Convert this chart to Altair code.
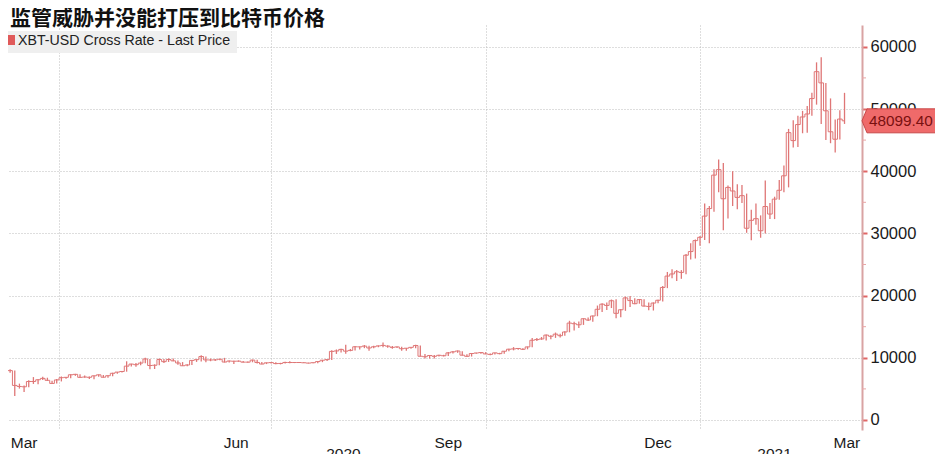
import altair as alt
import pandas as pd

# ---------------- data ----------------
title_text = "监管威胁并没能打压到比特币价格"
legend_text = "XBT-USD Cross Rate - Last Price"

first_bar = "2020-03-07"   # each bar covers two trading days
bar_step = "2D"

lows = [
    8850, 7700, 7600, 3850, 5050, 4500, 5250, 5800, 5750, 6450, 6300, 5860, 5870,
    6200, 6620, 6700, 7100, 6780, 6800, 6600, 6550, 6960, 6820, 6810, 7050, 7450, 7650, 7770,
    8620, 8550, 8800, 9120, 8150, 8200, 8800, 9150, 9330, 9440, 8900, 8700, 8640, 8830, 9340, 9420,
    9300, 9450, 9480, 9600, 9250, 9250, 8990, 9370, 9230, 9200, 9280, 9100, 8950, 8990, 9090,
    8950, 8940, 9070, 9140, 9150, 9200, 9150, 9090, 9130, 9130, 9300, 9480, 9650, 10620, 10860,
    10650, 11050, 11170, 11350, 11550, 11150, 11540, 11700, 11680, 11600, 11450, 11570, 11120, 11150, 11440, 11550,
    10200, 9900, 9880, 9900, 10200, 10220, 10300, 10690, 10800, 10350, 10180, 10200, 10640, 10650, 10600,
    10410, 10520, 10560, 10650, 11060, 11200, 11280, 11250, 11360, 11690, 12720, 12890, 12800, 12980, 13200,
    13250, 13530, 14100, 14400, 14800, 15290, 15900, 15800, 16680, 17350, 17700, 18000, 16350, 16520, 17550,
    18150, 18600, 18700, 18240, 17650, 17600, 18760, 19050, 21200, 22800, 22350, 22700, 23450, 25800, 25950, 28000,
    28950, 28400, 33500, 36600, 30500, 32400, 34400, 33900, 34900, 30100, 28900, 31400, 29300, 30000, 32300,
    32300, 35400, 36600, 37400, 43800, 43900, 46100, 46200, 48900, 50700, 47600, 45000, 44500, 43000,
    45100, 47600,
]
highs = [
    9200, 8900, 8150, 7970, 5850, 5550, 6400, 6900, 6550, 6950, 6800, 6300, 6600,
    7000, 6930, 7350, 7420, 7360, 7170, 6990, 7170, 7300, 7250, 7150, 7600, 7710, 7830, 9440,
    9040, 9180, 9390, 10000, 9800, 8950, 9900, 9800, 9900, 9900, 9560, 9310, 8980, 9600, 9720, 10400,
    10200, 9880, 9800, 9850, 9990, 9550, 9530, 9580, 9480, 9400, 9700, 9680, 9320, 9240, 9300,
    9270, 9190, 9360, 9450, 9310, 9340, 9280, 9210, 9240, 9420, 9660, 9730, 11200, 11340, 11450,
    12100, 11420, 11900, 11810, 12050, 11950, 11950, 11980, 12460, 12000, 11880, 11820, 11760, 11590, 11700, 12080,
    11980, 10600, 10400, 10440, 10480, 10480, 10930, 11100, 11180, 11050, 10570, 10760, 10810, 10950, 10910,
    10680, 10800, 10800, 11100, 11440, 11720, 11550, 11540, 11800, 13200, 13170, 13340, 13760, 13630, 14060,
    13850, 14250, 15950, 15780, 15830, 16340, 16480, 16800, 18400, 18750, 18900, 19370, 19400, 17850, 19850,
    19920, 19580, 19420, 19400, 18900, 18900, 19350, 21550, 23800, 24250, 24100, 24100, 26700, 28400, 29000, 29600,
    34800, 34400, 40300, 41900, 41300, 37700, 40000, 37900, 37800, 36400, 33800, 34800, 32900, 38500, 34900,
    35900, 38600, 40900, 46800, 48200, 48900, 49700, 50500, 52600, 57500, 58300, 54200, 51700, 48300,
    49800, 52600,
]
closes = [
    8900, 7930, 7940, 5560, 5390, 5340, 6190, 6190, 6470, 6690, 6380, 5880, 6440,
    6800, 6860, 7270, 7340, 6860, 6910, 6870, 7100, 7260, 6880, 7120, 7510, 7700, 7800, 8660,
    8990, 8890, 9150, 9810, 8760, 8800, 9730, 9380, 9730, 9510, 9170, 8720, 8840, 9580, 9700, 10200,
    9660, 9650, 9670, 9770, 9320, 9480, 9450, 9460, 9300, 9300, 9630, 9250, 9000, 9190, 9230,
    9070, 9090, 9250, 9240, 9240, 9240, 9200, 9150, 9210, 9390, 9610, 9710, 11030, 11100, 11350,
    11070, 11190, 11770, 11760, 11880, 11580, 11770, 11910, 11990, 11870, 11680, 11750, 11460, 11540, 11680, 11970,
    10250, 10170, 10370, 10240, 10400, 10330, 10790, 10950, 11090, 10420, 10240, 10690, 10770, 10840, 10620,
    10550, 10790, 10670, 11060, 11380, 11430, 11500, 11370, 11750, 12820, 12930, 13030, 13650, 13460, 13800,
    13550, 14150, 15580, 15480, 15310, 16280, 16070, 16720, 17800, 18620, 18420, 19170, 17150, 17720, 19630,
    19200, 18700, 19360, 18320, 18260, 18800, 19250, 21310, 23140, 23480, 23830, 23730, 26490, 27080, 28840, 29370,
    32780, 33990, 39370, 40250, 35570, 37390, 36820, 35790, 36070, 30830, 32100, 32370, 30430, 34320, 33110,
    35510, 36930, 39260, 46200, 44920, 47500, 48720, 49200, 51680, 56000, 54200, 49710, 46340, 45140,
    48380, 48099,
]
last_price = 48099.40

y_ticks = [0, 10000, 20000, 30000, 40000, 50000, 60000]
y_minor = [5000, 15000, 25000, 35000, 45000, 55000]

month_dates = ["2020-03-17", "2020-06-16", "2020-09-15", "2020-12-14", "2021-03-05"]
month_labels = ["Mar", "Jun", "Sep", "Dec", "Mar"]
year_dates = ["2020-08-01", "2021-02-02"]
year_labels = ["2020", "2021"]
grid_dates = [(2020, 4, 1), (2020, 7, 1), (2020, 10, 1), (2021, 1, 1)]

# ---------------- tables ----------------
bar_dates = pd.date_range(first_bar, periods=len(lows), freq=bar_step).strftime("%Y-%m-%d")
bars_df = pd.DataFrame({"date": list(bar_dates), "v": lows, "high": highs, "c": closes})
minor_df = pd.DataFrame({"v": y_minor})
last_df = pd.DataFrame({"v": [last_price]})
month_df = pd.DataFrame({"date": month_dates, "label": month_labels})
year_df = pd.DataFrame({"date": year_dates, "label": year_labels})
one = pd.DataFrame({"t": [title_text], "l": [legend_text]})

# ---------------- scales / axes ----------------
xscale = alt.Scale(
    type="utc",
    domain=[alt.DateTime(year=2020, month=3, date=6, hours=16, utc=True),
            alt.DateTime(year=2021, month=3, date=11, hours=12, utc=True)],
)
xaxis = alt.Axis(
    values=[alt.DateTime(year=y, month=m, date=d, utc=True) for (y, m, d) in grid_dates],
    labels=False, ticks=False, domain=False, title=None,
    grid=True, gridDash=[1, 2], gridColor="#bdbdbd", gridWidth=1,
)
yscale = alt.Scale(domain=[-1608, 63505], nice=False, zero=False)
yaxis = alt.Axis(
    orient="right", values=y_ticks, format="d", title=None,
    grid=True, gridDash=[1, 2], gridColor="#bdbdbd", gridWidth=1,
    domainColor="#d9a3a3", domainWidth=2,
    tickColor="#e06666", tickWidth=2, tickSize=5,
    labelFont="Liberation Sans", labelFontSize=16.5, labelColor="#1a1a1a",
    labelPadding=3, labelFlush=False, labelOverlap=False,
)


def X(f):
    return alt.X(f"{f}:T", scale=xscale, axis=xaxis)


def Y(f):
    return alt.Y(f"{f}:Q", scale=yscale, axis=yaxis)


# ---------------- layers ----------------
bar_color = "#df7676"
price = alt.Chart(bars_df).mark_rule(color=bar_color, strokeWidth=1.3).encode(
    x=X("date"), y=Y("v"), y2="high"
)
close_steps = alt.Chart(bars_df).mark_line(
    color=bar_color, strokeWidth=1, interpolate="step"
).encode(x=X("date"), y=Y("c"))

minor = alt.Chart(minor_df).mark_rule(color="#e8a6a6", strokeWidth=1).encode(
    y=Y("v"), x=alt.value(862), x2=alt.value(866)
)

box_path = "M -1 0 L -0.88 -0.289 L 1 -0.289 L 1 0.289 L -0.88 0.289 Z"
box = alt.Chart(last_df).mark_point(
    shape=box_path, size=6889, filled=True, fill="#ef6a6a", stroke="#c84848",
    strokeWidth=1, opacity=1,
).encode(x=alt.value(903.5), y=Y("v"))

box_text = alt.Chart(last_df).mark_text(
    align="left", baseline="middle", font="Liberation Sans", fontSize=15.3, color="#7a1010"
).encode(x=alt.value(869), y=Y("v"), text=alt.Text("v:Q", format=".2f"))

months = alt.Chart(month_df).mark_text(
    baseline="middle", font="Liberation Sans", fontSize=15.5, color="#1a1a1a"
).encode(x=X("date"), y=alt.value(418), text="label:N")

years = alt.Chart(year_df).mark_text(
    baseline="middle", font="Liberation Sans", fontSize=15.5, color="#1a1a1a"
).encode(x=X("date"), y=alt.value(429), text="label:N")

title = alt.Chart(one).mark_text(
    align="left", baseline="middle", font="Noto Sans CJK SC", fontSize=21,
    fontWeight="bold", color="#111111"
).encode(x=alt.value(10), y=alt.value(-6), text="t:N")

legend_bg = alt.Chart(one).mark_rect(color="#efefef").encode(
    x=alt.value(0), x2=alt.value(237), y=alt.value(6), y2=alt.value(28)
)
legend_sq = alt.Chart(one).mark_rect(color="#e05a5a").encode(
    x=alt.value(8), x2=alt.value(15), y=alt.value(10), y2=alt.value(20)
)
legend_tx = alt.Chart(one).mark_text(
    align="left", baseline="middle", font="Liberation Sans", fontSize=14.2, color="#222222"
).encode(x=alt.value(18), y=alt.value(15.5), text="l:N")

chart = alt.layer(
    price, close_steps, minor, box, box_text, months, years,
    legend_bg, legend_sq, legend_tx, title
).properties(
    width=862, height=405,
    autosize=alt.AutoSizeParams(type="none"),
    padding={"left": -8, "top": 17, "right": 73, "bottom": 24},
    background="white",
).configure_view(stroke=None)

chart.save("out.html", embed_options={"renderer": "svg", "actions": False})
